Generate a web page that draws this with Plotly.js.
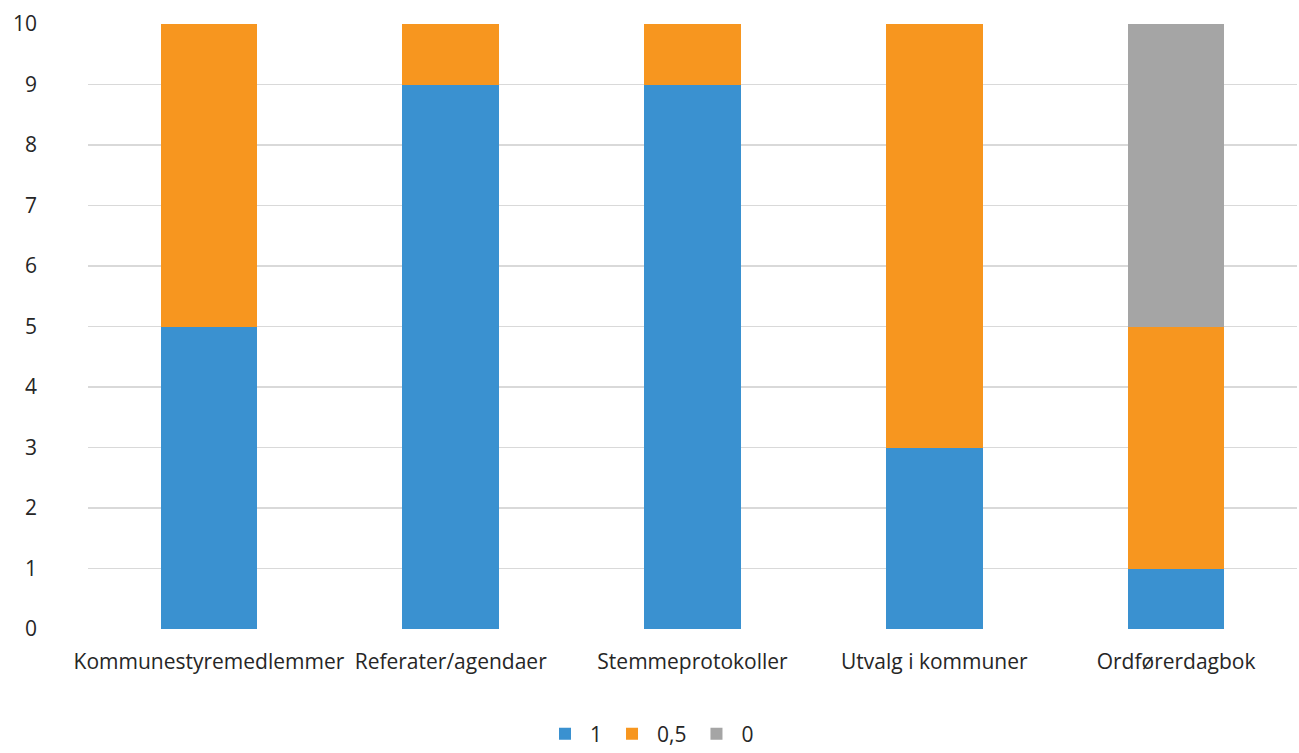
<!DOCTYPE html>
<html><head><meta charset="utf-8">
<script src="https://cdn.plot.ly/plotly-3.0.1.min.js"></script>
<style>html,body{margin:0;padding:0;background:#fff}#chart{width:1299px;height:753px}</style>
</head><body><div id="chart"></div>
<script>
const categories = ["Kommunestyremedlemmer","Referater/agendaer","Stemmeprotokoller","Utvalg i kommuner","Ordførerdagbok"];
const seriesNames = ["1","0,5","0"];
const values1 = [5, 9, 9, 3, 1];
const values05 = [5, 1, 1, 7, 4];
const values0 = [0, 0, 0, 0, 5];
const colors = ["#3A91D0","#F7961F","#A5A5A5"];
const allVals = [values1, values05, values0];
const traces = allVals.map((v,i)=>({type:'bar', x:categories, y:v, name:seriesNames[i], marker:{color:colors[i], line:{width:0}}, hoverinfo:'skip'}));
const font = {family:"'Open Sans', 'Noto Sans', sans-serif", size:21, color:'#262626'};
Plotly.newPlot('chart', traces, {
  width:1299, height:753, barmode:'stack', bargap:0.6,
  margin:{l:88, r:2, t:24, b:124},
  paper_bgcolor:'#fff', plot_bgcolor:'#fff', font:font,
  xaxis:{showgrid:false, zeroline:false, showline:false, ticks:'', ticklabelstandoff:18, tickfont:font, automargin:false},
  yaxis:{range:[0,10], dtick:1, showgrid:true, gridcolor:'#D9D9D9', gridwidth:1.5, zeroline:false, showline:false, ticks:'', ticklabelstandoff:50, tickfont:font, automargin:false},
  showlegend:true,
  legend:{orientation:'h', x:0.5, xanchor:'center', xref:'container', y:0.025, yref:'container', yanchor:'middle', traceorder:'normal', font:font, itemwidth:40},
}, {displayModeBar:false, staticPlot:true});
</script></body></html>
